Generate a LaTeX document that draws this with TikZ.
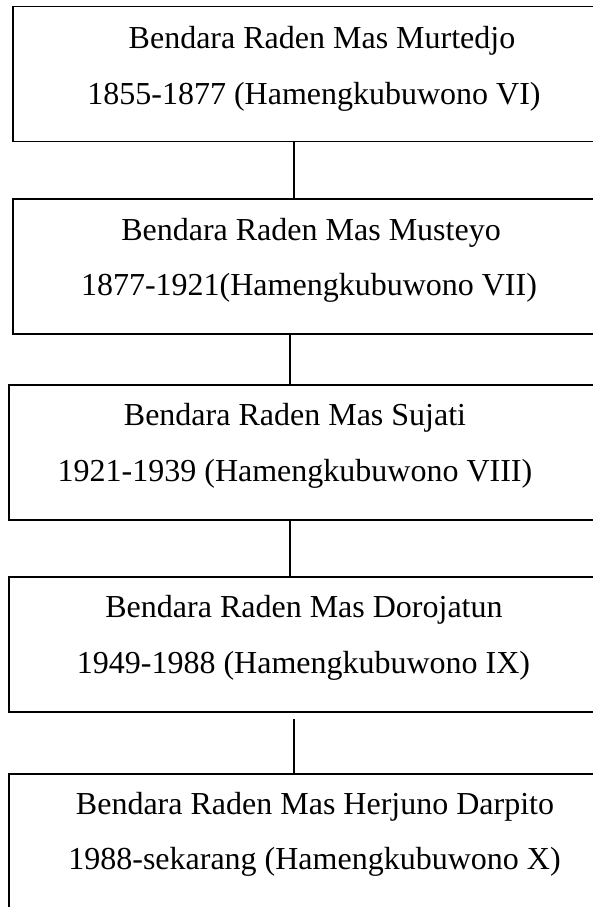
\documentclass[tikz,border=0pt]{standalone}
\usepackage{fontspec}
\setmainfont{Liberation Serif}
\begin{document}
\begin{tikzpicture}[x=1pt,y=-1pt,
  box/.style={draw=black, line width=1.3pt, fill=none, minimum width=700pt, minimum height=135pt, anchor=north west, inner sep=0pt, outer sep=0pt},
  txt/.style={anchor=base, inner sep=0pt, font=\fontsize{32}{38}\selectfont},
  conn/.style={draw=black, line width=1.1pt}]
\clip (0,0) rectangle (593,907);
\fill[white] (0,0) rectangle (593,907);
% boxes
\node[box] (b1) at (13,6.5) {};
\node[box] (b2) at (13,199) {};
\node[box] (b3) at (9,385) {};
\node[box] (b4) at (9,577) {};
\node[box, minimum height=200pt] (b5) at (9,774) {};
% texts
\node[txt] (t1a) at (322,48.5) {Bendara Raden Mas Murtedjo};
\node[txt] (t1b) at (314,104) {1855-1877 (Hamengkubuwono VI)};
\node[txt] (t2a) at (311,240) {Bendara Raden Mas Musteyo};
\node[txt] (t2b) at (309,295.5) {1877-1921(Hamengkubuwono VII)};
\node[txt] (t3a) at (295,425.5) {Bendara Raden Mas Sujati};
\node[txt] (t3b) at (295,481) {1921-1939 (Hamengkubuwono VIII)};
\node[txt] (t4a) at (304,617.5) {Bendara Raden Mas Dorojatun};
\node[txt] (t4b) at (303.5,673) {1949-1988 (Hamengkubuwono IX)};
\node[txt] (t5a) at (315,814) {Bendara Raden Mas Herjuno Darpito};
\node[txt] (t5b) at (314.5,869.5) {1988-sekarang (Hamengkubuwono X)};
% connectors
\coordinate (xa) at (294,0);
\coordinate (xb) at (290,0);
\coordinate (c4top) at (294,719);
\draw[conn] (b1.south -| xa) -- (b2.north -| xa);
\draw[conn] (b2.south -| xb) -- (b3.north -| xb);
\draw[conn] (b3.south -| xb) -- (b4.north -| xb);
\draw[conn] (c4top) -- (b5.north -| c4top);
\end{tikzpicture}
\end{document}
